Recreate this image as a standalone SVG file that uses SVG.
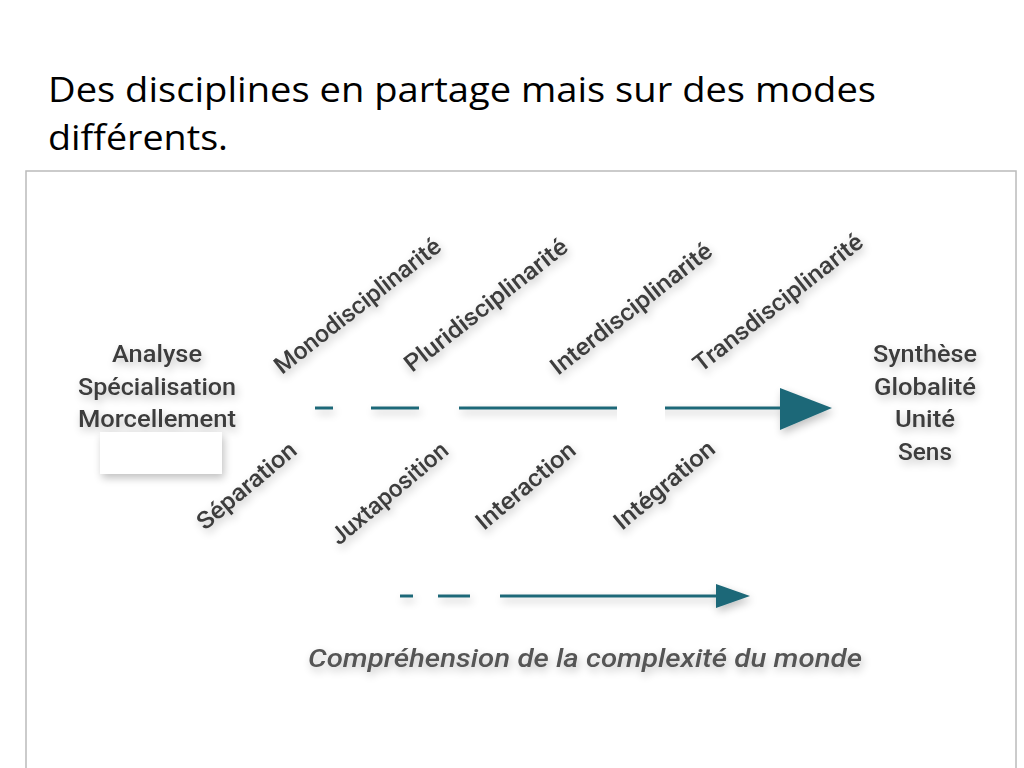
<svg xmlns="http://www.w3.org/2000/svg" width="1024" height="768" viewBox="0 0 1024 768">
<defs>
<filter id="sh" x="-20%" y="-50%" width="140%" height="200%"><feGaussianBlur in="SourceAlpha" stdDeviation="4"/><feOffset dx="2" dy="4"/><feComponentTransfer><feFuncA type="linear" slope="0.25"/></feComponentTransfer><feMerge><feMergeNode/><feMergeNode in="SourceGraphic"/></feMerge></filter>
<style>
.t{font-family:Roboto,"Liberation Sans",sans-serif;font-size:24px;font-weight:500;fill:#3c3c3c}
.c{text-anchor:middle}
.ln{stroke:#1f6878;stroke-width:3;fill:none}
.hd{fill:#1f6878}
</style>
</defs>
<rect width="1024" height="768" fill="#fff"/>
<text x="48" y="102" font-family="'Open Sans','Liberation Sans',sans-serif" font-size="34" fill="#000" textLength="828" lengthAdjust="spacingAndGlyphs">Des disciplines en partage mais sur des modes</text>
<text x="48" y="150" font-family="'Open Sans','Liberation Sans',sans-serif" font-size="34" fill="#000" textLength="180" lengthAdjust="spacingAndGlyphs">différents.</text>
<rect x="26" y="171" width="990" height="600" fill="#fff" stroke="#bbb" stroke-width="1.5"/>
<g id="left" filter="url(#sh)">
<text class="t c" x="157" y="362" textLength="90" lengthAdjust="spacingAndGlyphs">Analyse</text>
<text class="t c" x="157" y="395" textLength="158" lengthAdjust="spacingAndGlyphs">Spécialisation</text>
<text class="t c" x="157" y="427" textLength="158" lengthAdjust="spacingAndGlyphs">Morcellement</text>
</g>
<g id="right" filter="url(#sh)">
<text class="t c" x="925" y="362" textLength="104" lengthAdjust="spacingAndGlyphs">Synthèse</text>
<text class="t c" x="925" y="395" textLength="102" lengthAdjust="spacingAndGlyphs">Globalité</text>
<text class="t c" x="925" y="427" textLength="60" lengthAdjust="spacingAndGlyphs">Unité</text>
<text class="t c" x="925" y="460" textLength="54" lengthAdjust="spacingAndGlyphs">Sens</text>
</g>
<rect x="100" y="432" width="122" height="42" fill="#fff" filter="url(#sh)"/>
<g id="connectors" filter="url(#sh)">
<path class="ln" d="M315 408H333M371 408H419M459 408H785"/>
<polygon class="hd" points="780,388 832,408 780,430"/>
<path class="ln" d="M400 596H413M438 596H470M500 596H720"/>
<polygon class="hd" points="716,584 750,596 716,608"/>
</g>
<rect x="617" y="392" width="48" height="40" fill="#fff"/>
<g id="upper" filter="url(#sh)">
<text class="t" transform="translate(282,375) rotate(-38)" textLength="204" lengthAdjust="spacingAndGlyphs">Monodisciplinarité</text>
<text class="t" transform="translate(412,373) rotate(-38)" textLength="200" lengthAdjust="spacingAndGlyphs">Pluridisciplinarité</text>
<text class="t" transform="translate(558,376) rotate(-38)" textLength="198" lengthAdjust="spacingAndGlyphs">Interdisciplinarité</text>
<text class="t" transform="translate(701,373) rotate(-38)" textLength="208" lengthAdjust="spacingAndGlyphs">Transdisciplinarité</text>
</g>
<g id="lower" filter="url(#sh)">
<text class="t" transform="translate(205,531) rotate(-40)" textLength="122" lengthAdjust="spacingAndGlyphs">Séparation</text>
<text class="t" transform="translate(339,546) rotate(-40)" textLength="145" lengthAdjust="spacingAndGlyphs">Juxtaposition</text>
<text class="t" transform="translate(484,531) rotate(-40)" textLength="122" lengthAdjust="spacingAndGlyphs">Interaction</text>
<text class="t" transform="translate(622,531) rotate(-40)" textLength="124" lengthAdjust="spacingAndGlyphs">Intégration</text>
</g>
<text x="308" y="667" font-family="Roboto,'Liberation Sans',sans-serif" font-style="italic" font-weight="500" font-size="25" fill="#555" textLength="554" lengthAdjust="spacingAndGlyphs" filter="url(#sh)">Compréhension de la complexité du monde</text>
</svg>
